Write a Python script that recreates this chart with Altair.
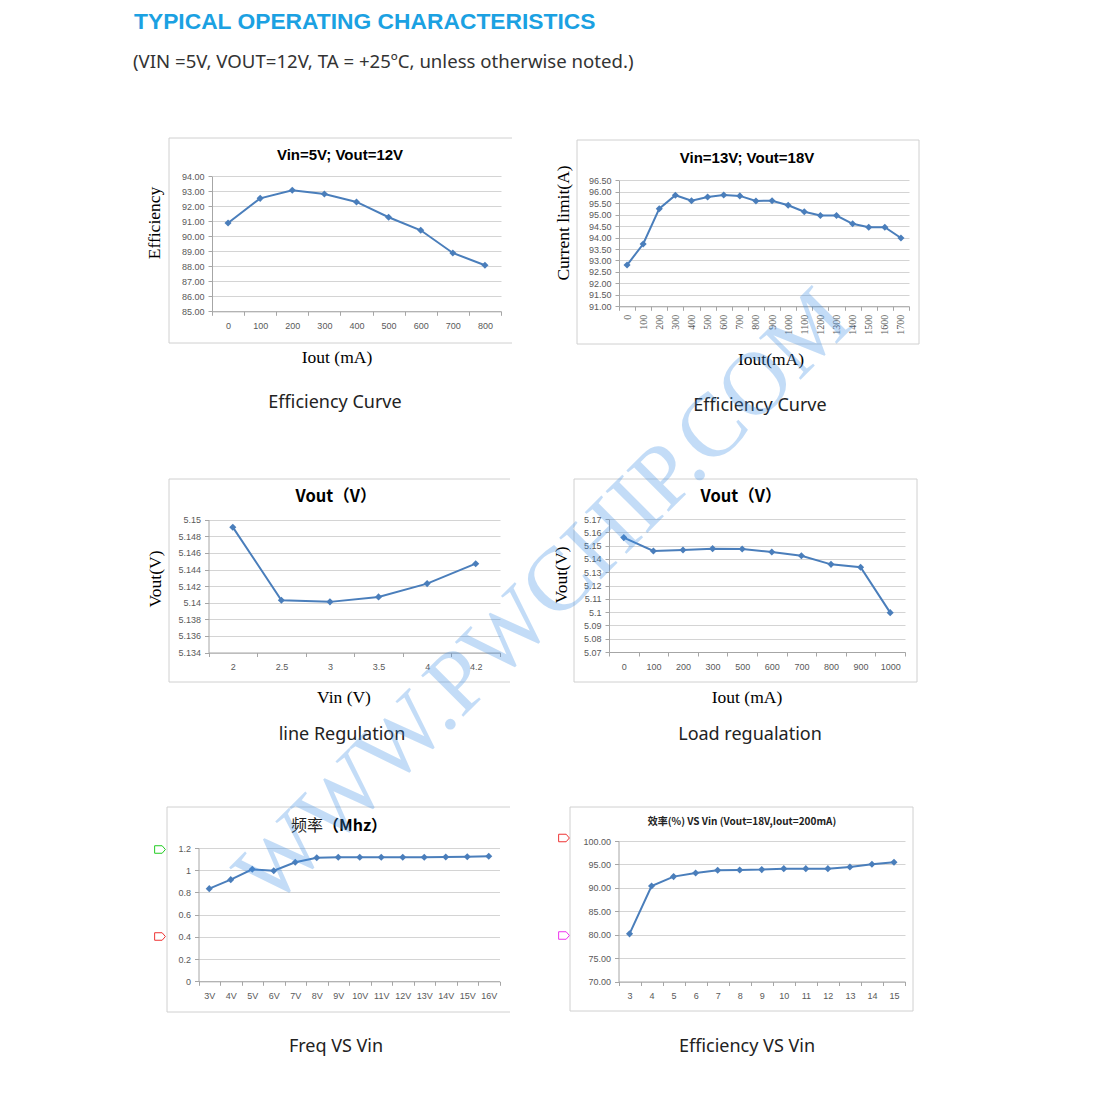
import altair as alt
import pandas as pd

# ---------------- data ----------------
p1_iout = ["0", "100", "200", "300", "400", "500", "600", "700", "800"]
p1_eff = [90.89, 92.53, 93.07, 92.82, 92.29, 91.27, 90.40, 88.89, 88.07]
p1_ticks = [85.0, 86.0, 87.0, 88.0, 89.0, 90.0, 91.0, 92.0, 93.0, 94.0]

p2_iout = ["0", "100", "200", "300", "400", "500", "600", "700", "800", "900",
           "1000", "1100", "1200", "1300", "1400", "1500", "1600", "1700"]
p2_limit = [92.80, 93.72, 95.26, 95.85, 95.61, 95.77, 95.86, 95.82, 95.60, 95.61,
            95.41, 95.13, 94.96, 94.96, 94.60, 94.45, 94.45, 93.98]
p2_ticks = [91.0, 91.5, 92.0, 92.5, 93.0, 93.5, 94.0, 94.5, 95.0, 95.5, 96.0, 96.5]

p3_vin = ["2", "2.5", "3", "3.5", "4", "4.2"]
p3_vout = [5.1491, 5.1403, 5.1401, 5.1407, 5.1423, 5.1447]
p3_ticks = [5.134, 5.136, 5.138, 5.140, 5.142, 5.144, 5.146, 5.148, 5.150]

p4_iout = ["0", "100", "200", "300", "500", "600", "700", "800", "900", "1000"]
p4_vout = [5.1560, 5.1460, 5.1467, 5.1477, 5.1474, 5.1452, 5.1424, 5.1359, 5.1337, 5.0996]
p4_ticks = [5.07, 5.08, 5.09, 5.10, 5.11, 5.12, 5.13, 5.14, 5.15, 5.16, 5.17]

p5_vin = ["3V", "4V", "5V", "6V", "7V", "8V", "9V", "10V", "11V", "12V", "13V", "14V", "15V", "16V"]
p5_freq = [0.834, 0.915, 1.008, 0.996, 1.071, 1.113, 1.116, 1.116, 1.116, 1.116, 1.116, 1.119, 1.122, 1.125]
p5_ticks = [0.0, 0.2, 0.4, 0.6, 0.8, 1.0, 1.2]

p6_vin = ["3", "4", "5", "6", "7", "8", "9", "10", "11", "12", "13", "14", "15"]
p6_eff = [80.17, 90.40, 92.40, 93.18, 93.75, 93.82, 93.89, 94.10, 94.10, 94.10, 94.46, 95.03, 95.45]
p6_ticks = [70.0, 75.0, 80.0, 85.0, 90.0, 95.0, 100.0]

# ---------------- layout / style ----------------
W, H = 1080, 1075
MX, MY = 11, 10  # page -> chart offset


def gx(v):
    return v - MX


def gy(v):
    return v - MY


BLUE = "#4A7EBB"
FRAME = "#d0d0d0"
SERIF = "Liberation Serif"
SANS = "Liberation Sans"
CJK = "Noto Sans CJK SC"
CAP = "Noto Sans"
ONE = alt.Data(values=[{}])


def panel(cats, vals, ticks, fmt, xr, yr, xfont=SANS, xangle=0, xsize=9):
    df = pd.DataFrame({"cat": cats, "val": vals})
    x0, x1 = gx(xr[0]), gx(xr[1])
    yb, yt = gy(yr[0]), gy(yr[1])
    xaxis = alt.Axis(orient="bottom", offset=yb - H, title=None, grid=False,
                     tickBand="extent", tickSize=4,
                     labelPadding=6 if xangle == 0 else 4, labelAngle=xangle,
                     labelFont=xfont, labelFontSize=xsize, labelOverlap=False)
    yaxis = alt.Axis(orient="left", offset=-x0, title=None, values=ticks, format=fmt,
                     grid=True, tickSize=4, labelPadding=4, labelOverlap=False)
    return alt.Chart(df).mark_line(
        color=BLUE, strokeWidth=2,
        point=alt.OverlayMarkDef(shape="diamond", filled=True, size=50, color=BLUE),
    ).encode(
        x=alt.X("cat:O", sort=cats, axis=xaxis,
                scale=alt.Scale(type="band", domain=cats, range=[x0, x1],
                                paddingInner=0, paddingOuter=0)),
        y=alt.Y("val:Q", axis=yaxis,
                scale=alt.Scale(domain=[ticks[0], ticks[-1]], range=[yb, yt],
                                zero=False, nice=False)),
    )


def label(txt, x, y, size, font, color="#000000", weight="normal", angle=0,
          align="center", baseline="middle", opacity=1.0):
    kw = dict(text=txt, fontSize=size, font=font, color=color, fontWeight=weight,
              align=align, baseline=baseline, opacity=opacity)
    if angle:
        kw["angle"] = angle
    return alt.Chart(ONE).mark_text(**kw).encode(x=alt.value(gx(x)), y=alt.value(gy(y)))


def frame(x1, x2, y1, y2, right=False):
    out = [
        alt.Chart(ONE).mark_rule(color=FRAME, strokeWidth=1).encode(
            x=alt.value(gx(x1)), x2=alt.value(gx(x2)), y=alt.value(gy(y1))),
        alt.Chart(ONE).mark_rule(color=FRAME, strokeWidth=1).encode(
            x=alt.value(gx(x1)), x2=alt.value(gx(x2)), y=alt.value(gy(y2))),
        alt.Chart(ONE).mark_rule(color=FRAME, strokeWidth=1).encode(
            x=alt.value(gx(x1)), y=alt.value(gy(y1)), y2=alt.value(gy(y2))),
    ]
    if right:
        out.append(alt.Chart(ONE).mark_rule(color=FRAME, strokeWidth=1).encode(
            x=alt.value(gx(x2)), y=alt.value(gy(y1)), y2=alt.value(gy(y2))))
    return out


TAG = "M-1,-0.7L0.4,-0.7L1,0L0.4,0.7L-1,0.7Z"


def tag(x, y, color):
    return alt.Chart(ONE).mark_point(shape=TAG, filled=False, size=115, color=color,
                                     strokeWidth=1, opacity=1).encode(
        x=alt.value(gx(x)), y=alt.value(gy(y)))


layers = []

# frames (behind everything)
layers += frame(167, 510, 140, 345)
layers += frame(575, 917, 142, 346, right=True)
layers += frame(167, 508, 481, 684)
layers += frame(572, 915, 481, 684, right=True)
layers += frame(165, 508, 809, 1014)
layers += frame(568, 911, 809, 1013, right=True)

# the six charts
layers.append(panel(p1_iout, p1_eff, p1_ticks, ".2f", (210, 499), (313.3, 178.3)))
layers.append(panel(p2_iout, p2_limit, p2_ticks, ".2f", (617, 907), (308.3, 182.3),
                    xfont=SERIF, xangle=270, xsize=10))
layers.append(panel(p3_vin, p3_vout, p3_ticks, "~g", (206.5, 498), (654.5, 521.7)))
layers.append(panel(p4_iout, p4_vout, p4_ticks, "~g", (607, 903), (654, 521)))
layers.append(panel(p5_vin, p5_freq, p5_ticks, "~g", (196.5, 497.5), (983.3, 850)))
layers.append(panel(p6_vin, p6_eff, p6_ticks, ".2f", (616.5, 903), (983.5, 843)))

# header
layers.append(label("TYPICAL OPERATING CHARACTERISTICS", 132, 31, 22.8, SANS,
                    color="#1BA1E2", weight="bold", align="left", baseline="alphabetic"))
layers.append(label("(VIN =5V, VOUT=12V, TA = +25ºC, unless otherwise noted.)", 131, 69.5, 18.6, CAP,
                    color="#333333", align="left", baseline="alphabetic"))

# panel 1 texts
layers.append(label("Vin=5V; Vout=12V", 338, 157, 15, SANS, weight="bold"))
layers.append(label("Efficiency", 153, 225, 17.5, SERIF, angle=270))
layers.append(label("Iout (mA)", 335, 360, 17.5, SERIF))
layers.append(label("Efficiency Curve", 333, 405, 18, CAP, color="#222222"))

# panel 2 texts
layers.append(label("Vin=13V; Vout=18V", 745, 160, 15, SANS, weight="bold"))
layers.append(label("Current limit(A)", 562, 225, 17.5, SERIF, angle=270))
layers.append(label("Iout(mA)", 769, 362, 17.5, SERIF))
layers.append(label("Efficiency Curve", 758, 408, 18, CAP, color="#222222"))

# panel 3 texts
layers.append(label("Vout（V）", 334, 499, 16.5, CJK, weight="bold"))
layers.append(label("Vout(V)", 154, 581, 17.5, SERIF, angle=270))
layers.append(label("Vin (V)", 342, 700, 17.5, SERIF))
layers.append(label("line Regulation", 340, 737, 18, CAP, color="#222222"))

# panel 4 texts
layers.append(label("Vout（V）", 739, 499, 16.5, CJK, weight="bold"))
layers.append(label("Vout(V)", 560, 577, 17.5, SERIF, angle=270))
layers.append(label("Iout (mA)", 745, 700, 17.5, SERIF))
layers.append(label("Load regualation", 748, 737, 18, CAP, color="#222222"))

# panel 5 texts
layers.append(label("频率", 321, 828, 16, CJK, color="#222222", align="right"))
layers.append(label("（Mhz）", 321, 828, 16, CJK, weight="bold", align="left"))
layers.append(tag(158, 851.5, "#22cc22"))
layers.append(tag(158, 938.5, "#ee3333"))
layers.append(label("Freq VS Vin", 334, 1049, 18, CAP, color="#222222"))

# panel 6 texts
layers.append(label("效率(%) VS  Vin (Vout=18V,Iout=200mA)", 740, 824, 10, CJK, weight="bold",
                    color="#222222"))
layers.append(tag(562, 840, "#ee3333"))
layers.append(tag(562, 937.5, "#ee33ee"))
layers.append(label("Efficiency VS Vin", 745, 1049, 18, CAP, color="#222222"))

# watermark on top
layers.append(label("WWW.PWCHIP.COM", 542, 600, 90, SERIF, color="#3d8fe6", angle=315,
                    opacity=0.3))

chart = alt.layer(*layers).resolve_scale(
    x="independent", y="independent"
).resolve_axis(
    x="independent", y="independent"
).properties(
    width=W, height=H, padding=0
).configure_view(
    strokeWidth=0
).configure_axis(
    domainColor="#a6a6a6", tickColor="#a6a6a6", gridColor="#d4d4d4",
    labelColor="#595959", labelFont=SANS, labelFontSize=9,
    domainWidth=1, tickWidth=1, gridWidth=1,
)

chart.save("out.html", embed_options={"renderer": "svg", "actions": False})
